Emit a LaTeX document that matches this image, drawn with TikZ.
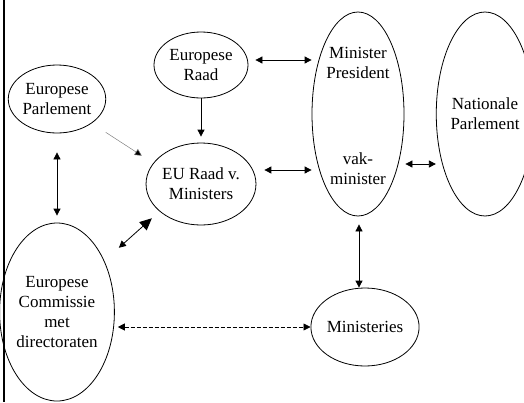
\documentclass[tikz,border=0pt]{standalone}
\usepackage{fontspec}
\setmainfont{Liberation Serif}
\usetikzlibrary{shapes.geometric}
\usetikzlibrary{arrows.meta}
\usetikzlibrary{calc}

\begin{document}
\begin{tikzpicture}[x=1pt,y=-1pt,
	orgaan/.style={ellipse,draw,line width=0.8pt,inner sep=0pt,align=center,font=\fontsize{17}{20}\selectfont},
	tekst/.style={inner sep=0pt,align=center,font=\fontsize{17}{20}\selectfont},
	pijl/.style={line width=0.8pt,-{Triangle[length=7pt,width=7pt]}},
	dubbel/.style={line width=0.8pt,{Triangle[length=7pt,width=7pt]}-{Triangle[length=7pt,width=7pt]}}]
		\useasboundingbox (0,0) rectangle (524,402);

		% kader links
		\draw [line width=2.5pt] (4,0) -- (4,402);

		% organen
		\node [orgaan,minimum width=94pt,minimum height=66pt] (er) at (201,65) {Europese\\Raad};
		\node [orgaan,minimum width=90pt,minimum height=68pt] (ep) at (57,99) {Europese\\Parlement};
		\node [orgaan,minimum width=92pt,minimum height=82pt] (eu) at (201,184) {EU Raad v.\\Ministers};
		\node [orgaan,minimum width=92pt,minimum height=204pt] (mp) at (358,114) {};
		\node [orgaan,minimum width=82pt,minimum height=204pt] (np) at (485,114) {Nationale\\Parlement};
		\node [orgaan,minimum width=90pt,minimum height=178pt] (ec) at (57,312) {Europese\\Commissie\\met\\directoraten};
		\node [orgaan,minimum width=92pt,minimum height=78pt] (mi) at (365,327) {Ministeries};

		% tekst in Minister President
		\node [tekst] (mpt) at (358,63) {Minister\\President};
		\node [tekst] (vak) at (358,169) {vak-\\minister};

		% verbindingen
		\draw [dubbel] ($(er.east)+(7,-5)$) -- ($(er.east -| mp.west)+(0,-5)$);
		\draw [pijl] (er.south) -- ($(eu.north)+(0,-6)$);
		\draw [line width=0.5pt,draw=gray,-{Triangle[length=7pt,width=7pt,fill=black]}] ($(ep.south east)+(14,9)$) -- ($(eu.north west)+(-20,1)$);
		\draw [dubbel] ($(eu.east)+(8,-14)$) -- ($(eu.east -| mp.west)+(0,-14)$);
		\draw [dubbel] ($(mp.east)+(1,50)$) -- ($(np.west)+(0,50)$);
		\draw [dubbel] ($(ep.south)+(0,19)$) -- ($(ec.north)+(0,-7)$);
		\draw [line width=0.8pt,{Triangle[length=7pt,width=7pt]}-{Triangle[length=12pt,width=11pt]}] ($(ec.north east)+(21,-1)$) -- ($(eu.south west)+(-10,5)$);
		\draw [dubbel,dash pattern=on 4pt off 2pt] ($(mi.west -| ec.east)+(3,0)$) -- (mi.west);
		\draw [dubbel] ($(mp.south)+(1,8)$) -- ($(mp.south |- mi.north)+(1,0)$);
\end{tikzpicture}
\end{document}
